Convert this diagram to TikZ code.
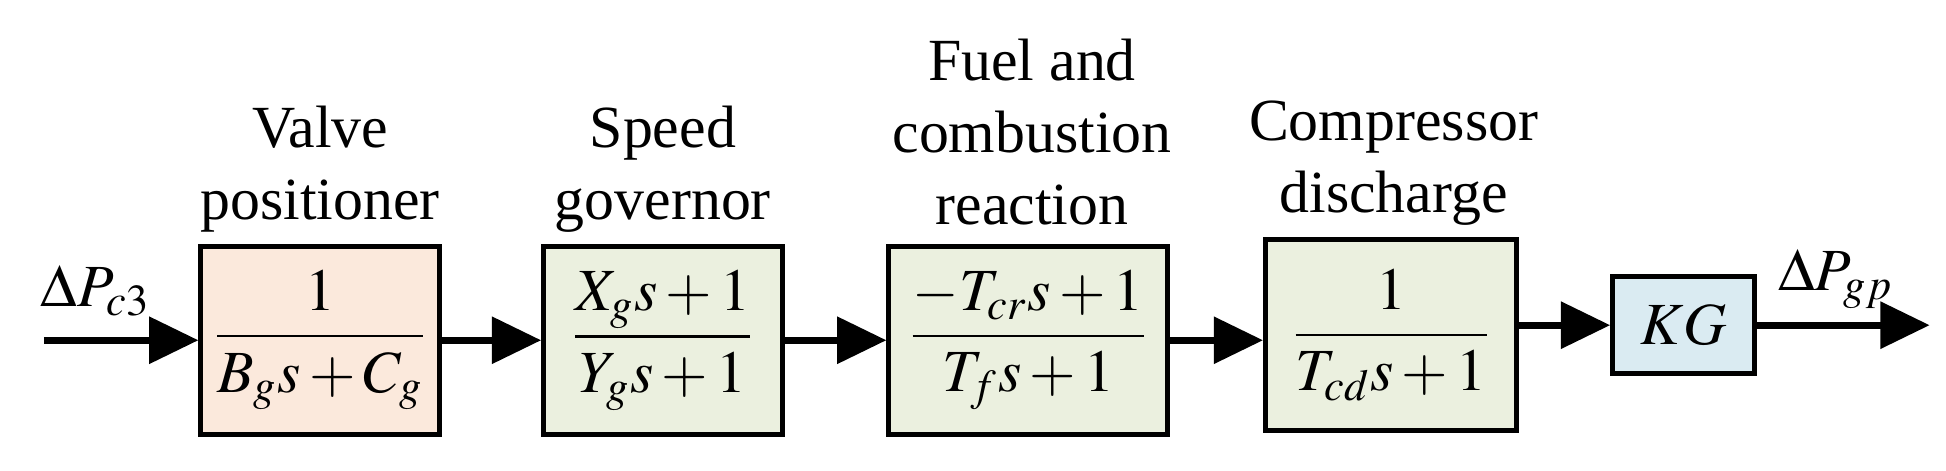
\documentclass[tikz,border=0pt]{standalone}
\usepackage{amsmath}
\usepackage{mathptmx}
\usepackage{fontspec}
\setmainfont{Liberation Serif}
\usetikzlibrary{arrows.meta}
\definecolor{peach}{HTML}{FBE9DC}
\definecolor{sage}{HTML}{EBF0DF}
\definecolor{sky}{HTML}{DAEBF2}

\begin{document}
\begin{tikzpicture}[x=0.01255cm,y=-0.01255cm,font=\fontsize{17}{20.5}\selectfont]
\useasboundingbox (0,0) rectangle (1550,375);
\begin{scope}[every node/.style={draw,line width=1.4pt,inner sep=0pt}]
    \node[fill=peach,minimum width=190*0.01255cm,minimum height=150*0.01255cm] (b1) at (255,271) {$\dfrac{1}{B_g s+C_g}$};
    \node[fill=sage,minimum width=190*0.01255cm,minimum height=150*0.01255cm] (b2) at (528,271) {$\dfrac{X_g s+1}{Y_g s+1}$};
    \node[fill=sage,minimum width=222*0.01255cm,minimum height=150*0.01255cm] (b3) at (819,271) {$\dfrac{-T_{cr} s+1}{T_f s+1}$};
    \node[fill=sage,minimum width=200*0.01255cm,minimum height=152*0.01255cm] (b4) at (1108,267) {$\dfrac{1}{T_{cd} s+1}$};
    \node[fill=sky,minimum width=113*0.01255cm,minimum height=77*0.01255cm] (kg) at (1341,259) {$KG$};
\end{scope}
\begin{scope}[every node/.style={align=center}]
    \node (t1) at (255,135) {Valve\\positioner};
    \node (t2) at (528,135) {Speed\\governor};
    \node (t3) at (822,105) {Fuel and\\combustion\\reaction};
    \node (t4) at (1110,130) {Compressor\\discharge};
    \node (pin) at (76,232) {$\Delta P_{c3}$};
    \node (pout) at (1462,222) {$\Delta P_{gp}$};
\end{scope}
\coordinate (in) at (35,271);
\coordinate (out) at (1537,259);
\begin{scope}[every path/.style={draw,line width=2pt,-{Triangle[length=14pt,width=13pt]}}]
    \path (in) -- (b1.west);
    \path (b1.east) -- (b2.west);
    \path (b2.east) -- (b3.west);
    \path (b3.east) -- (b4.west |- b3.east);
    \path (b4.east |- kg.west) -- (kg.west);
    \path (kg.east) -- (out);
\end{scope}
\end{tikzpicture}
\end{document}
